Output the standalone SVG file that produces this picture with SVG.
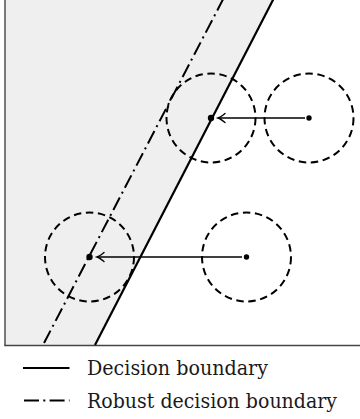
<svg xmlns="http://www.w3.org/2000/svg" width="360" height="419" viewBox="0 0 360 419">
<style>
.circ{fill:none;stroke:#000;stroke-width:2;stroke-dasharray:7.5 4.6}
.dot{fill:#000}
.arr{fill:none;stroke:#000;stroke-width:1.5}
.solid{fill:none;stroke:#000;stroke-width:2.2}
.dd{fill:none;stroke:#000;stroke-width:2;stroke-dasharray:14 4.5 2 4.5}
.txt{font-size:20px;fill:#1a1a1a}
</style>
<defs>
<marker id="ah" markerUnits="userSpaceOnUse" markerWidth="14" markerHeight="12" viewBox="-10 -6 12 12" refX="0" refY="0" orient="auto">
<path d="M -7 -4.5 Q -2.5 -0.8 0 0 Q -2.5 0.8 -7 4.5" fill="none" stroke="#000" stroke-width="1.4" stroke-linecap="round"/>
</marker>
</defs>
<g id="plane">
<polygon points="5,-2 274,-2 95,345 5,345" fill="#efefef"/>
<line x1="5" y1="-2" x2="5" y2="345.5" stroke="#444" stroke-width="1.4"/>
<line x1="4.3" y1="345.5" x2="362" y2="345.5" stroke="#444" stroke-width="1.5"/>
</g>
<g id="decision-boundary">
<line class="solid" x1="274" y1="-2" x2="95" y2="345"/>
</g>
<g id="robust-boundary">
<line class="dd" x1="223.7" y1="-2" x2="43" y2="345"/>
</g>
<g id="upper-left">
<circle class="circ" cx="211" cy="118" r="44.5"/>
<circle class="dot" cx="211" cy="118" r="3.2"/>
</g>
<g id="upper-right">
<circle class="circ" cx="309" cy="118" r="44.5"/>
<circle class="dot" cx="309" cy="118" r="2.7"/>
</g>
<g id="lower-left">
<circle class="circ" cx="89.5" cy="257" r="44.5"/>
<circle class="dot" cx="89.5" cy="257" r="3.2"/>
</g>
<g id="lower-right">
<circle class="circ" cx="246.5" cy="257" r="44.5"/>
<circle class="dot" cx="246.5" cy="257" r="2.7"/>
</g>
<g id="connectors">
<line class="arr" x1="305" y1="118" x2="218" y2="118" marker-end="url(#ah)"/>
<line class="arr" x1="242" y1="257" x2="97" y2="257" marker-end="url(#ah)"/>
</g>
<g id="legend">
<line class="solid" x1="23" y1="368" x2="69.5" y2="368"/>
<text class="txt" font-family="DejaVu Serif, serif" x="87" y="375" textLength="181" lengthAdjust="spacingAndGlyphs">Decision boundary</text>
<line class="dd" x1="24" y1="400.5" x2="69.5" y2="400.5" style="stroke-dasharray:15 4.3 2 4.3"/>
<text class="txt" font-family="DejaVu Serif, serif" x="87" y="407.5" textLength="250" lengthAdjust="spacingAndGlyphs">Robust decision boundary</text>
</g>
</svg>
